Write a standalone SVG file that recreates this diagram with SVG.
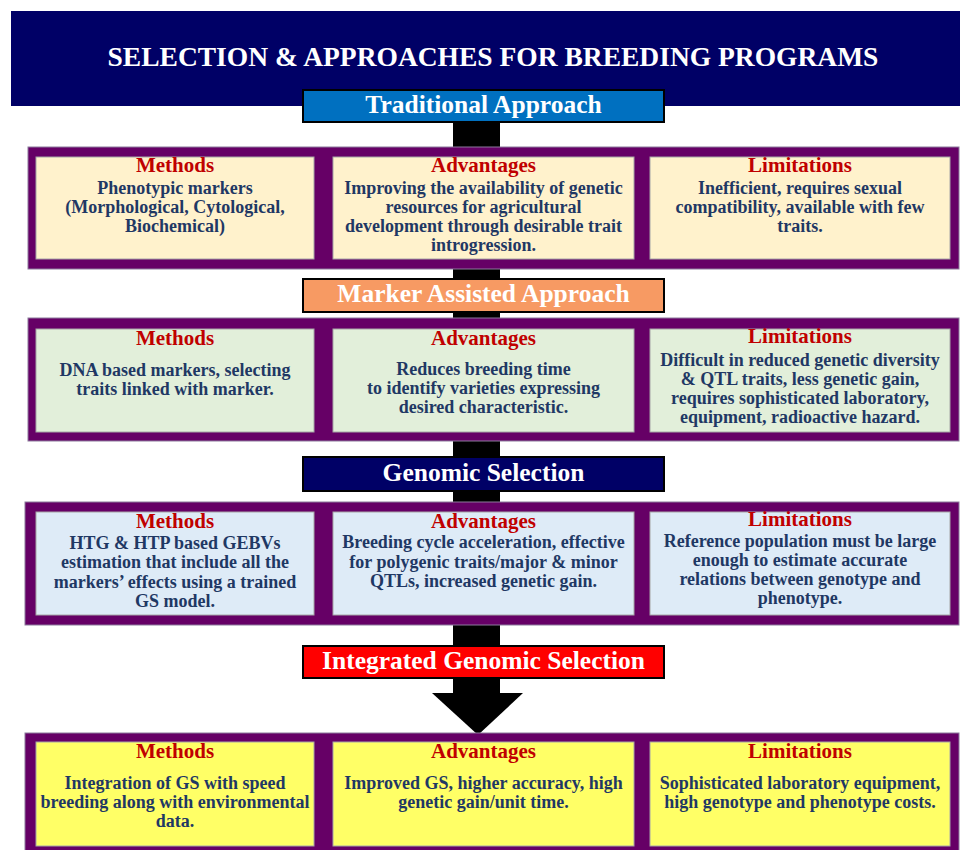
<svg xmlns="http://www.w3.org/2000/svg" width="960" height="850" viewBox="0 0 960 850">
<style>
.band{fill:#660066;stroke:#8c7a9c;stroke-width:1}
.cell{stroke:#a6a6a6;stroke-width:1}
.c1{fill:#FFF2CC}.c2{fill:#E2EFDA}.c3{fill:#DEEBF7}.c4{fill:#FFFF66}
.bar{stroke:#000;stroke-width:2}
.bt{font-family:"Liberation Serif","Times New Roman",serif;font-weight:bold;font-size:25.5px;fill:#fff;text-anchor:middle}
.h{font-family:"Liberation Serif","Times New Roman",serif;font-weight:bold;font-size:21px;fill:#C00000;text-anchor:middle}
.b{font-family:"Liberation Serif","Times New Roman",serif;font-weight:bold;font-size:18px;fill:#1F3864;text-anchor:middle}
</style>
<rect width="960" height="850" fill="#fff"/>
<g id="header">
<rect x="11" y="11" width="949" height="95" fill="#000066"/>
<text x="493" y="66" font-family="'Liberation Serif','Times New Roman',serif" font-weight="bold" font-size="27.5" fill="#fff" text-anchor="middle">SELECTION &amp; APPROACHES FOR BREEDING PROGRAMS</text>
</g>
<g id="connectors">
<rect x="453" y="118" width="47" height="576" fill="#000"/>
<polygon points="432,693 523,693 478,735" fill="#000"/>
</g>
<g id="traditional-approach">
<rect class="bar" x="303" y="90" width="361" height="32" fill="#0070C0"/>
<text class="bt" x="483.5" y="113">Traditional Approach</text>
</g>
<g id="band-traditional">
<rect class="band" x="28" y="147" width="931" height="122"/>
<g id="trad-methods">
<rect class="cell c1" x="36" y="157" width="278" height="102"/>
<text class="h" x="175" y="172">Methods</text>
<text class="b" x="175" y="194">Phenotypic markers</text>
<text class="b" x="175" y="213">(Morphological, Cytological,</text>
<text class="b" x="175" y="232">Biochemical)</text>
</g>
<g id="trad-advantages">
<rect class="cell c1" x="333" y="157" width="301" height="102"/>
<text class="h" x="483.5" y="172">Advantages</text>
<text class="b" x="483.5" y="194">Improving the availability of genetic</text>
<text class="b" x="483.5" y="213">resources for agricultural</text>
<text class="b" x="483.5" y="232">development through desirable trait</text>
<text class="b" x="483.5" y="251">introgression.</text>
</g>
<g id="trad-limitations">
<rect class="cell c1" x="650" y="157" width="300" height="102"/>
<text class="h" x="800" y="172">Limitations</text>
<text class="b" x="800" y="194">Inefficient, requires sexual</text>
<text class="b" x="800" y="213">compatibility, available with few</text>
<text class="b" x="800" y="232">traits.</text>
</g>
</g>
<g id="marker-assisted-approach">
<rect class="bar" x="303" y="279" width="361" height="33" fill="#F79A63"/>
<text class="bt" x="483.5" y="302">Marker Assisted Approach</text>
</g>
<g id="band-marker">
<rect class="band" x="28" y="318" width="931" height="123"/>
<g id="mas-methods">
<rect class="cell c2" x="36" y="329" width="278" height="103"/>
<text class="h" x="175" y="345">Methods</text>
<text class="b" x="175" y="376">DNA based markers, selecting</text>
<text class="b" x="175" y="395">traits linked with marker.</text>
</g>
<g id="mas-advantages">
<rect class="cell c2" x="333" y="329" width="301" height="103"/>
<text class="h" x="483.5" y="345">Advantages</text>
<text class="b" x="483.5" y="375">Reduces breeding time</text>
<text class="b" x="483.5" y="394">to identify varieties expressing</text>
<text class="b" x="483.5" y="413">desired characteristic.</text>
</g>
<g id="mas-limitations">
<rect class="cell c2" x="650" y="329" width="300" height="103"/>
<text class="h" x="800" y="343">Limitations</text>
<text class="b" x="800" y="366">Difficult in reduced genetic diversity</text>
<text class="b" x="800" y="385">&amp; QTL traits, less genetic gain,</text>
<text class="b" x="800" y="404">requires sophisticated  laboratory,</text>
<text class="b" x="800" y="423">equipment, radioactive hazard.</text>
</g>
</g>
<g id="genomic-selection">
<rect class="bar" x="303" y="457" width="361" height="34" fill="#000066"/>
<text class="bt" x="483.5" y="481">Genomic Selection</text>
</g>
<g id="band-genomic">
<rect class="band" x="25" y="502" width="934" height="123"/>
<g id="gs-methods">
<rect class="cell c3" x="36" y="512" width="278" height="103"/>
<text class="h" x="175" y="528">Methods</text>
<text class="b" x="175" y="549">HTG &amp; HTP based GEBVs</text>
<text class="b" x="175" y="568">estimation that include all the</text>
<text class="b" x="175" y="588">markers’ effects using a trained</text>
<text class="b" x="175" y="607">GS model.</text>
</g>
<g id="gs-advantages">
<rect class="cell c3" x="333" y="512" width="301" height="103"/>
<text class="h" x="483.5" y="528">Advantages</text>
<text class="b" x="483.5" y="548">Breeding cycle acceleration, effective</text>
<text class="b" x="483.5" y="568">for polygenic traits/major &amp; minor</text>
<text class="b" x="483.5" y="587">QTLs, increased genetic gain.</text>
</g>
<g id="gs-limitations">
<rect class="cell c3" x="650" y="512" width="300" height="103"/>
<text class="h" x="800" y="526" font-size="20">Limitations</text>
<text class="b" x="800" y="547">Reference population must be large</text>
<text class="b" x="800" y="566">enough to estimate accurate</text>
<text class="b" x="800" y="585">relations between genotype and</text>
<text class="b" x="800" y="604">phenotype.</text>
</g>
</g>
<g id="integrated-genomic-selection">
<rect class="bar" x="303" y="646" width="361" height="32" fill="#FF0000"/>
<text class="bt" x="483.5" y="669">Integrated Genomic Selection</text>
</g>
<g id="band-integrated">
<rect class="band" x="25" y="733" width="934" height="120"/>
<g id="igs-methods">
<rect class="cell c4" x="36" y="742" width="278" height="104"/>
<text class="h" x="175" y="758">Methods</text>
<text class="b" x="175" y="789">Integration of GS with speed</text>
<text class="b" x="175" y="808">breeding along with environmental</text>
<text class="b" x="175" y="827">data.</text>
</g>
<g id="igs-advantages">
<rect class="cell c4" x="333" y="742" width="301" height="104"/>
<text class="h" x="483.5" y="758">Advantages</text>
<text class="b" x="483.5" y="789">Improved GS, higher accuracy, high</text>
<text class="b" x="483.5" y="808">genetic gain/unit time.</text>
</g>
<g id="igs-limitations">
<rect class="cell c4" x="650" y="742" width="300" height="104"/>
<text class="h" x="800" y="758">Limitations</text>
<text class="b" x="800" y="789">Sophisticated laboratory equipment,</text>
<text class="b" x="800" y="808">high genotype and phenotype costs.</text>
</g>
</g>
</svg>
